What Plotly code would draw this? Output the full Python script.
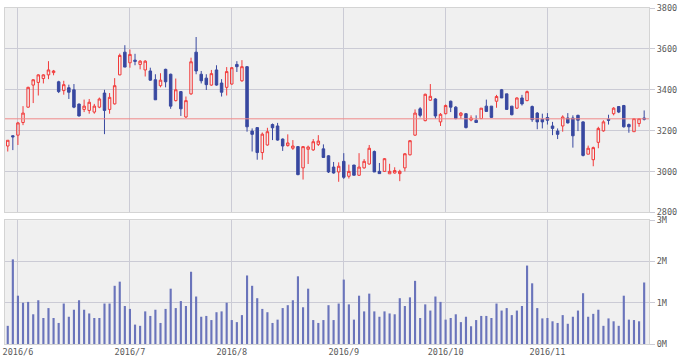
import plotly.graph_objects as go
from plotly.subplots import make_subplots

# Daily OHLC (trading days 2016/5/30 .. 2016/11/30)
open_ = [3125, 3175, 3178, 3240, 3315, 3423, 3436, 3455, 3473, 3484,
         3439, 3396, 3410, 3400, 3330, 3304, 3299, 3291, 3315, 3384,
         3304, 3331, 3473, 3584, 3532, 3545, 3524, 3497, 3492, 3449,
         3420, 3500, 3476, 3347, 3391, 3267, 3380, 3584, 3476, 3457,
         3423, 3497, 3433, 3412, 3428, 3524, 3444, 3513, 3198, 3215,
         3093, 3130, 3230, 3223, 3159, 3127, 3114, 3122, 3018, 3109,
         3106, 3133, 3111, 3077, 3022, 2998, 3050, 2977, 3032, 2982,
         3018, 3037, 3098, 3001, 3001, 2989, 2993, 2990, 3018, 3082,
         3178, 3307, 3249, 3349, 3355, 3243, 3283, 3344, 3315, 3275,
         3283, 3252, 3251, 3259, 3320, 3320, 3344, 3400, 3380, 3320,
         3310, 3360, 3347, 3318, 3286, 3256, 3264, 3223, 3198, 3223,
         3262, 3262, 3275, 3243, 3085, 3058, 3143, 3199, 3256, 3283,
         3318, 3323, 3230, 3195, 3235, 3262]
high = [3153, 3178, 3243, 3320, 3415, 3452, 3476, 3476, 3540, 3497,
        3444, 3444, 3425, 3428, 3333, 3352, 3355, 3331, 3362, 3400,
        3384, 3457, 3577, 3618, 3597, 3576, 3545, 3545, 3508, 3476,
        3481, 3503, 3479, 3455, 3394, 3367, 3557, 3658, 3492, 3476,
        3497, 3520, 3452, 3511, 3511, 3540, 3545, 3516, 3211, 3215,
        3191, 3214, 3235, 3238, 3162, 3182, 3154, 3125, 3125, 3127,
        3159, 3178, 3133, 3080, 3047, 3045, 3090, 3034, 3032, 3090,
        3061, 3130, 3103, 3042, 3066, 3038, 3021, 3009, 3090, 3154,
        3304, 3315, 3381, 3428, 3359, 3286, 3328, 3347, 3320, 3291,
        3286, 3275, 3275, 3310, 3352, 3320, 3375, 3404, 3380, 3320,
        3363, 3375, 3396, 3323, 3291, 3283, 3286, 3243, 3211, 3275,
        3286, 3275, 3278, 3246, 3127, 3122, 3219, 3251, 3278, 3315,
        3320, 3326, 3235, 3262, 3262, 3299]
low = [3098, 3105, 3130, 3227, 3312, 3335, 3372, 3431, 3452, 3471,
       3384, 3376, 3355, 3310, 3269, 3291, 3283, 3283, 3310, 3183,
       3283, 3328, 3471, 3511, 3508, 3520, 3500, 3465, 3444, 3351,
       3412, 3412, 3307, 3343, 3272, 3262, 3375, 3476, 3431, 3399,
       3420, 3420, 3367, 3372, 3425, 3487, 3439, 3195, 3098, 3058,
       3058, 3127, 3154, 3151, 3101, 3122, 3106, 2982, 2961, 3037,
       3101, 3125, 3069, 2993, 2990, 2950, 2964, 2966, 2982, 2979,
       3014, 3034, 2998, 2990, 2998, 2989, 2990, 2953, 3001, 3079,
       3175, 3265, 3246, 3346, 3259, 3223, 3280, 3291, 3256, 3259,
       3211, 3246, 3238, 3259, 3294, 3262, 3312, 3360, 3304, 3275,
       3307, 3323, 3344, 3243, 3207, 3211, 3230, 3178, 3159, 3195,
       3235, 3117, 3198, 3074, 3085, 3026, 3114, 3195, 3230, 3275,
       3286, 3215, 3190, 3195, 3219, 3250]
close = [3153, 3170, 3238, 3286, 3412, 3449, 3473, 3473, 3497, 3492,
         3391, 3425, 3388, 3315, 3272, 3320, 3339, 3320, 3355, 3299,
         3363, 3420, 3568, 3511, 3573, 3539, 3540, 3540, 3447, 3351,
         3447, 3439, 3320, 3400, 3307, 3347, 3537, 3492, 3444, 3425,
         3479, 3423, 3388, 3489, 3508, 3513, 3513, 3219, 3182, 3093,
         3183, 3195, 3214, 3154, 3125, 3140, 3125, 2985, 3122, 3120,
         3146, 3149, 3069, 2998, 2993, 3026, 2972, 3001, 2982, 3022,
         3050, 3114, 2998, 2990, 3063, 3001, 3005, 3001, 3087, 3151,
         3286, 3275, 3378, 3368, 3272, 3280, 3323, 3315, 3259, 3286,
         3215, 3262, 3240, 3310, 3294, 3265, 3367, 3360, 3304, 3278,
         3360, 3331, 3391, 3254, 3243, 3243, 3251, 3211, 3182, 3267,
         3238, 3175, 3251, 3079, 3114, 3117, 3211, 3243, 3251, 3310,
         3291, 3219, 3219, 3259, 3259, 3256]
volume_m = [0.44, 2.05, 1.17, 1.00, 1.02, 0.72, 1.06, 0.63, 0.87, 0.63,
            0.51, 0.98, 0.66, 0.83, 1.06, 0.83, 0.74, 0.63, 0.63, 0.98,
            0.98, 1.41, 1.51, 0.92, 0.85, 0.47, 0.44, 0.79, 0.68, 0.83,
            0.51, 0.85, 1.34, 0.87, 1.04, 0.92, 1.75, 1.15, 0.66, 0.68,
            0.58, 0.77, 0.79, 1.00, 0.58, 0.53, 0.70, 1.66, 1.41, 1.11,
            0.85, 0.77, 0.51, 0.59, 0.87, 0.94, 1.06, 1.64, 0.89, 1.34,
            0.58, 0.51, 0.58, 0.94, 0.58, 0.98, 1.56, 0.96, 0.59, 1.17,
            0.79, 1.22, 0.79, 0.66, 0.79, 0.74, 0.72, 1.11, 0.92, 1.13,
            1.53, 0.63, 0.96, 0.81, 1.15, 1.02, 0.59, 0.63, 0.72, 0.53,
            0.66, 0.43, 0.58, 0.68, 0.68, 0.63, 0.98, 0.81, 0.87, 0.70,
            0.81, 0.92, 1.90, 1.47, 0.87, 0.62, 0.63, 0.55, 0.51, 0.70,
            0.49, 0.66, 0.81, 1.23, 0.66, 0.73, 0.83, 0.44, 0.62, 0.55,
            0.44, 1.17, 0.59, 0.58, 0.55, 1.49]
ref_price = 3258

month_pos = [2, 24, 44, 66, 86, 106]
month_labels = ["2016/6", "2016/7", "2016/8", "2016/9", "2016/10", "2016/11"]
price_ticks = [2800, 3000, 3200, 3400, 3600, 3800]
vol_ticks = [0, 1, 2, 3]
vol_labels = ["0M", "1M", "2M", "3M"]

x = list(range(len(close)))
volume = [v * 1e6 for v in volume_m]

fig = make_subplots(rows=2, cols=1, shared_xaxes=False,
                    row_heights=[0.6085, 0.3686], vertical_spacing=0.0229)

fig.add_trace(go.Candlestick(
    x=x, open=open_, high=high, low=low, close=close,
    increasing=dict(line=dict(color="#f23a3a", width=1), fillcolor="rgba(0,0,0,0)"),
    decreasing=dict(line=dict(color="#3848a0", width=1), fillcolor="#3848a0"),
    whiskerwidth=0, showlegend=False, hoverinfo="skip"), row=1, col=1)

fig.add_trace(go.Bar(
    x=x, y=volume, width=0.42, marker=dict(color="#6a74bb", line=dict(width=0)),
    showlegend=False, hoverinfo="skip"), row=2, col=1)

fig.add_shape(type="line", xref="x", yref="y", x0=-0.54, x1=125.95,
              y0=ref_price, y1=ref_price, line=dict(color="#f08a8a", width=1))

font = dict(family="DejaVu Sans Mono", size=8.5, color="#5a5a5a")
grid = "#cbcbd5"
xcommon = dict(range=[-0.54, 125.95], tickvals=month_pos, showgrid=True,
               gridcolor=grid, gridwidth=1, zeroline=False, showline=True,
               linecolor="#d4d4d4", mirror=True, rangeslider=dict(visible=False),
               tickfont=font, ticks="")
fig.update_xaxes(**xcommon, showticklabels=False, row=1, col=1)
fig.update_xaxes(**xcommon, ticktext=month_labels, showticklabels=True, row=2, col=1)

fig.update_yaxes(range=[2800, 3800], tickvals=price_ticks, side="right",
                 showgrid=True, gridcolor=grid, gridwidth=1, zeroline=False,
                 showline=True, linecolor="#d4d4d4", mirror=True,
                 ticks="outside", ticklen=5, tickcolor=grid, tickfont=font,
                 row=1, col=1)
fig.update_yaxes(range=[0, 3e6], tickvals=[v * 1e6 for v in vol_ticks],
                 ticktext=vol_labels, side="right", showgrid=True,
                 gridcolor=grid, gridwidth=1, zeroline=False, showline=True,
                 linecolor="#d4d4d4", mirror=True, ticks="outside", ticklen=5,
                 tickcolor=grid, tickfont=font, row=2, col=1)

fig.update_layout(width=680, height=360, margin=dict(l=4, r=29, t=3, b=16),
                  paper_bgcolor="white", plot_bgcolor="#f0f0f0",
                  bargap=0.5, showlegend=False)

fig.write_html("out.html", config={"displayModeBar": False},
               post_script="document.body.style.margin='0';document.body.style.overflow='hidden';")
